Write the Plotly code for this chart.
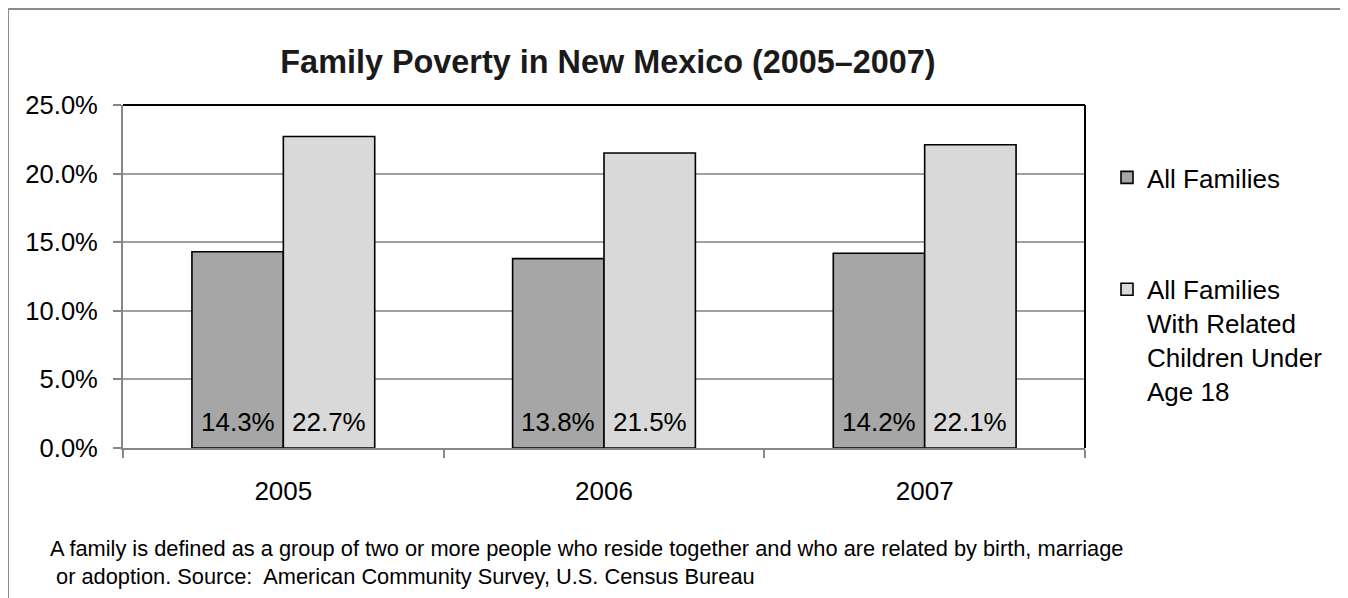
import plotly.graph_objects as go

years = ["2005", "2006", "2007"]
all_families = [14.3, 13.8, 14.2]
with_children = [22.7, 21.5, 22.1]
series_names = ["All Families", "All Families<br>With Related<br>Children Under<br>Age 18"]
title_text = "Family Poverty in New Mexico (2005–2007)"
footnote = ("A family is defined as a group of two or more people who reside together and who are related by birth, marriage"
            "<br>&nbsp;or adoption. Source:&nbsp; American Community Survey, U.S. Census Bureau")

OFF = 8  # default page margin around the figure
W, H = 1348 - OFF, 598 - OFF
# plot area in page pixels
PL, PR, PT, PB = 123, 1085, 105, 448
L, R, T, B = PL - OFF, PR - OFF, PT - OFF, PB - OFF
pw, ph = R - L, B - T
FONT = "Liberation Sans, Arial, sans-serif"


def px(x_page):
    return (x_page - OFF - L) / pw


def py(y_page):
    return (B - (y_page - OFF)) / ph


fig = go.Figure()
fig.add_trace(go.Bar(x=years, y=all_families, name=series_names[0], legendgroup="a",
                     marker=dict(color="#a6a6a6", line=dict(color="#000000", width=1.6))))
fig.add_trace(go.Bar(x=years, y=with_children, name=series_names[1], legendgroup="b",
                     marker=dict(color="#d9d9d9", line=dict(color="#000000", width=1.6))))

BARGAP = 0.43
annotations = []
bar_px = pw / len(years) * (1 - BARGAP) / 2
for vals, sgn in ((all_families, -1), (with_children, 1)):
    for i, v in enumerate(vals):
        annotations.append(dict(x=i, y=0, xref="x", yref="y", text=f"{v:.1f}%", showarrow=False,
                                xshift=sgn * bar_px / 2, yshift=26, yanchor="middle",
                                font=dict(family=FONT, size=26, color="#000000")))
annotations.append(dict(x=px(48), y=py(534), xref="paper", yref="paper", xanchor="left", yanchor="top",
                        align="left", showarrow=False, text=footnote,
                        font=dict(family=FONT, size=21.8, color="#000000")))

shapes = [
    dict(type="rect", xref="paper", yref="paper", x0=px(8), x1=px(1346), y0=py(640), y1=py(9),
         line=dict(color="#8c8c8c", width=2), layer="below"),
    dict(type="line", xref="paper", yref="paper", x0=0, x1=1, y0=1, y1=1,
         line=dict(color="#000000", width=2)),
    dict(type="line", xref="paper", yref="paper", x0=1, x1=1, y0=0, y1=1,
         line=dict(color="#000000", width=2)),
]

fig.update_layout(
    width=W, height=H,
    margin=dict(l=L, r=W - R, t=T, b=H - B, pad=0),
    paper_bgcolor="white", plot_bgcolor="white",
    barmode="group", bargap=BARGAP, bargroupgap=0,
    font=dict(family=FONT, size=26, color="#000000"),
    title=dict(text=f"<b>{title_text}</b>", x=(608 - OFF) / W, y=1 - (62 - OFF) / H,
               xref="container", yref="container", xanchor="center", yanchor="middle",
               font=dict(family=FONT, size=32.4, color="#1a1a1a")),
    legend=dict(x=px(1107), y=py(154), xanchor="left", yanchor="top", valign="top",
                traceorder="grouped", tracegroupgap=75, font=dict(family=FONT, size=26, color="#000000"),
                bgcolor="rgba(0,0,0,0)"),
    xaxis=dict(type="category", range=[-0.5, len(years) - 0.5], tickson="boundaries", ticks="outside",
               ticklen=8, tickwidth=2, tickcolor="#878787", showline=True, linecolor="#878787", linewidth=2,
               showgrid=False, tickfont=dict(family=FONT, size=26), ticklabelstandoff=19, fixedrange=True),
    yaxis=dict(range=[0, 25], dtick=5, tickformat=".1f", ticksuffix="%", ticks="outside", ticklen=8,
               tickwidth=2, tickcolor="#878787", showline=True, linecolor="#878787", linewidth=2,
               showgrid=True, gridcolor="#a0a0a0", gridwidth=1.5, zeroline=False,
               tickfont=dict(family=FONT, size=25.6), ticklabelstandoff=10, fixedrange=True),
    annotations=annotations, shapes=shapes,
)

fig.write_html("out.html")
